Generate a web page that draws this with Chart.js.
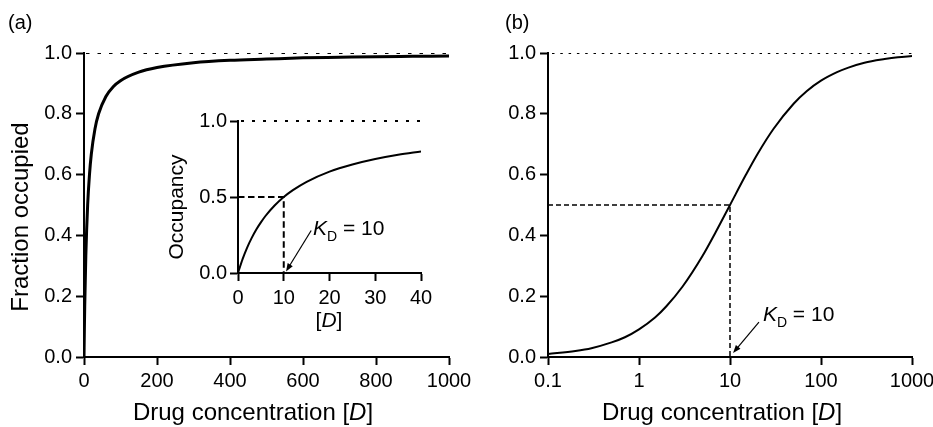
<!DOCTYPE html>
<html>
<head>
<meta charset="utf-8">
<script src="https://cdn.jsdelivr.net/npm/chart.js@4"></script>
<style>
  html, body { margin: 0; padding: 0; background: #fff; overflow: hidden; }
  #wrap { position: relative; width: 933px; height: 427px; overflow: hidden; }
  canvas { position: absolute; }
</style>
</head>
<body>
<div id="wrap">
  <canvas id="panelA" width="480" height="427" style="left:0;top:0"></canvas>
  <canvas id="panelB" width="480" height="427" style="left:470px;top:0"></canvas>
  <canvas id="inset" width="290" height="240" style="left:150px;top:100px"></canvas>
</div>
<script>
const FONT = '"Liberation Sans", Arial, Helvetica, sans-serif';

// Panel (a): binding curve on a linear concentration axis
const concA = [0, 1, 2, 5, 10, 15, 20, 30, 40, 60, 80, 100, 150, 200, 300, 400, 500, 600, 700, 800, 900, 1000];
const fracA = [0, 0.09, 0.167, 0.333, 0.5, 0.6, 0.667, 0.75, 0.8, 0.857, 0.889, 0.909, 0.937, 0.952, 0.968, 0.976, 0.98, 0.984, 0.986, 0.988, 0.989, 0.99];

// Inset: low-concentration part of the same curve
const concInset = [0, 1, 2, 3, 4, 5, 6, 8, 10, 12, 15, 20, 25, 30, 35, 40];
const occInset = [0, 0.091, 0.167, 0.231, 0.286, 0.333, 0.375, 0.444, 0.5, 0.545, 0.6, 0.667, 0.714, 0.75, 0.778, 0.8];

// Panel (b): same curve on a log concentration axis
const concB = [0.1, 0.2, 0.3, 0.5, 0.7, 1, 1.5, 2, 3, 5, 7, 10, 15, 20, 30, 50, 70, 100, 150, 200, 300, 500, 700, 1000];
const fracB = [0.01, 0.02, 0.029, 0.048, 0.065, 0.091, 0.13, 0.167, 0.231, 0.333, 0.412, 0.5, 0.6, 0.667, 0.75, 0.833, 0.875, 0.909, 0.937, 0.952, 0.968, 0.98, 0.986, 0.99];

// Tick values
const ticksConcA = [0, 200, 400, 600, 800, 1000];
const ticksFrac = [0, 0.2, 0.4, 0.6, 0.8, 1.0];
const ticksConcInset = [0, 10, 20, 30, 40];
const ticksOcc = [0, 0.5, 1.0];
const ticksConcB = [0.1, 1, 10, 100, 1000];

// Reference levels
const kd = 10;
const halfOcc = 0.5;
const fullOcc = 1.0;

const pts = (xs, ys) => xs.map((x, i) => ({ x, y: ys[i] }));

function makeScale({ type = 'linear', min, max, tickValues, fmt, size, horizontal, tickSize = 20, pad = 4 }) {
  return {
    type, min, max,
    afterBuildTicks: s => { s.ticks = tickValues.map(v => ({ value: v })); },
    afterFit: s => { if (horizontal) s.height = size; else s.width = size; },
    ticks: {
      color: '#000', padding: pad, autoSkip: false, maxRotation: 0,
      font: { family: FONT, size: tickSize },
      callback: v => fmt(v)
    },
    grid: { drawOnChartArea: false, drawTicks: true, tickLength: 8, tickWidth: 2, tickColor: '#000' },
    border: { display: true, color: '#000', width: 2 }
  };
}

// Mixed italic / subscript text
function drawRich(ctx, parts, x, y, size, align) {
  const fontOf = p => `${p.italic ? 'italic ' : ''}${p.sub ? Math.round(size * 0.68) : size}px ${FONT}`;
  let total = 0;
  parts.forEach(p => { ctx.font = fontOf(p); total += ctx.measureText(p.text).width; });
  let cx = align === 'center' ? x - total / 2 : x;
  ctx.textAlign = 'left';
  ctx.textBaseline = 'alphabetic';
  parts.forEach(p => {
    ctx.font = fontOf(p);
    ctx.fillText(p.text, cx, p.sub ? y + size * 0.3 : y);
    cx += ctx.measureText(p.text).width;
  });
}

// Text labels and arrows; "value" positions go through the chart's scales
const notes = {
  id: 'notes',
  afterDraw(chart, args, opts) {
    const ctx = chart.ctx;
    const sx = chart.scales.x, sy = chart.scales.y;
    const px = p => p.value ? [sx.getPixelForValue(p.value[0]), sy.getPixelForValue(p.value[1])] : p.at;
    ctx.save();
    ctx.fillStyle = '#000';
    ctx.strokeStyle = '#000';
    (opts.texts || []).forEach(t => {
      const [x, y] = px(t);
      ctx.save();
      ctx.translate(x, y);
      if (t.rotate) ctx.rotate(t.rotate);
      drawRich(ctx, t.parts, 0, 0, t.size, t.align);
      ctx.restore();
    });
    (opts.arrows || []).forEach(a => {
      const [x1, y1] = px({ value: a.from });
      const [x2, y2] = px({ value: a.to });
      const ang = Math.atan2(y2 - y1, x2 - x1);
      const len = 8, half = 3;
      ctx.lineWidth = 1.2;
      ctx.beginPath();
      ctx.moveTo(x1, y1);
      ctx.lineTo(x2 - Math.cos(ang) * len * 0.8, y2 - Math.sin(ang) * len * 0.8);
      ctx.stroke();
      ctx.beginPath();
      ctx.moveTo(x2, y2);
      ctx.lineTo(x2 - Math.cos(ang) * len - Math.sin(ang) * half, y2 - Math.sin(ang) * len + Math.cos(ang) * half);
      ctx.lineTo(x2 - Math.cos(ang) * len + Math.sin(ang) * half, y2 - Math.sin(ang) * len - Math.cos(ang) * half);
      ctx.closePath();
      ctx.fill();
    });
    ctx.restore();
  }
};

const common = {
  responsive: false,
  animation: false,
  events: [],
  devicePixelRatio: 1
};

const kdLabel = [{ text: 'K', italic: true }, { text: 'D', sub: true }, { text: ' = 10' }];
const concTitle = [{ text: 'Drug concentration [' }, { text: 'D', italic: true }, { text: ']' }];

// ---- Panel (a)
new Chart(document.getElementById('panelA'), {
  type: 'line',
  data: {
    datasets: [
      { data: pts(concA, fracA), borderColor: '#000', borderWidth: 3, pointRadius: 0, cubicInterpolationMode: 'monotone' },
      { data: pts([0, 1000], [fullOcc, fullOcc]), borderColor: '#000', borderWidth: 2, borderDash: [3.5, 8], borderDashOffset: -2, pointRadius: 0 }
    ]
  },
  options: Object.assign({}, common, {
    layout: { padding: { left: 0, top: 53, right: 31, bottom: 0 } },
    scales: {
      x: makeScale({ min: 0, max: 1000, tickValues: ticksConcA, fmt: v => String(v), size: 70, horizontal: true }),
      y: makeScale({ min: 0, max: 1, tickValues: ticksFrac, fmt: v => v.toFixed(1), size: 84 })
    },
    plugins: {
      legend: { display: false },
      tooltip: { enabled: false },
      notes: {
        texts: [
          { at: [8, 29], parts: [{ text: '(a)' }], size: 20 },
          { at: [28, 217], rotate: -Math.PI / 2, parts: [{ text: 'Fraction occupied' }], size: 24, align: 'center' },
          { at: [253, 420], parts: concTitle, size: 24, align: 'center' }
        ]
      }
    }
  }),
  plugins: [notes]
});

// ---- Inset of panel (a)
new Chart(document.getElementById('inset'), {
  type: 'line',
  data: {
    datasets: [
      { data: pts(concInset, occInset), borderColor: '#000', borderWidth: 2, pointRadius: 0, cubicInterpolationMode: 'monotone' },
      { data: pts([0, 41.3], [fullOcc, fullOcc]), borderColor: '#000', borderWidth: 2, borderDash: [3, 8], borderDashOffset: -3, pointRadius: 0, clip: false },
      { data: pts([0, kd, kd], [halfOcc, halfOcc, 0]), borderColor: '#000', borderWidth: 2, borderDash: [6.5, 3.5], pointRadius: 0, tension: 0 }
    ]
  },
  options: Object.assign({}, common, {
    layout: { padding: { left: 0, top: 21, right: 19, bottom: 0 } },
    scales: {
      x: makeScale({ min: 0, max: 40, tickValues: ticksConcInset, fmt: v => String(v), size: 67, horizontal: true, pad: 5 }),
      y: makeScale({ min: 0, max: 1, tickValues: ticksOcc, fmt: v => v.toFixed(1), size: 88, pad: 3 })
    },
    plugins: {
      legend: { display: false },
      tooltip: { enabled: false },
      notes: {
        texts: [
          { at: [33, 107], rotate: -Math.PI / 2, parts: [{ text: 'Occupancy' }], size: 21, align: 'center' },
          { at: [179, 227], parts: [{ text: '[' }, { text: 'D', italic: true }, { text: ']' }], size: 21, align: 'center' },
          { value: [16.4, 0.25], parts: kdLabel, size: 21 }
        ],
        arrows: [{ from: [16, 0.28], to: [10.5, 0.01] }]
      }
    }
  }),
  plugins: [notes]
});

// ---- Panel (b)
new Chart(document.getElementById('panelB'), {
  type: 'line',
  data: {
    datasets: [
      { data: pts(concB, fracB), borderColor: '#000', borderWidth: 2, pointRadius: 0, cubicInterpolationMode: 'monotone' },
      { data: pts([0.1, 1000], [fullOcc, fullOcc]), borderColor: '#000', borderWidth: 2, borderDash: [2.5, 5.8], borderDashOffset: -4, pointRadius: 0 },
      { data: pts([0.1, kd, kd], [halfOcc, halfOcc, 0]), borderColor: '#000', borderWidth: 1.5, borderDash: [5, 3], pointRadius: 0, tension: 0 }
    ]
  },
  options: Object.assign({}, common, {
    layout: { padding: { left: 0, top: 53, right: 38, bottom: 0 } },
    scales: {
      x: makeScale({ type: 'logarithmic', min: 0.1, max: 1000, tickValues: ticksConcB, fmt: v => String(v), size: 70, horizontal: true }),
      y: makeScale({ min: 0, max: 1, tickValues: ticksFrac, fmt: v => v.toFixed(1), size: 78 })
    },
    plugins: {
      legend: { display: false },
      tooltip: { enabled: false },
      notes: {
        texts: [
          { at: [35, 29], parts: [{ text: '(b)' }], size: 20 },
          { at: [252, 420], parts: concTitle, size: 24, align: 'center' },
          { value: [23, 0.118], parts: kdLabel, size: 21 }
        ],
        arrows: [{ from: [20.8, 0.115], to: [10.8, 0.013] }]
      }
    }
  }),
  plugins: [notes]
});
</script>
</body>
</html>
